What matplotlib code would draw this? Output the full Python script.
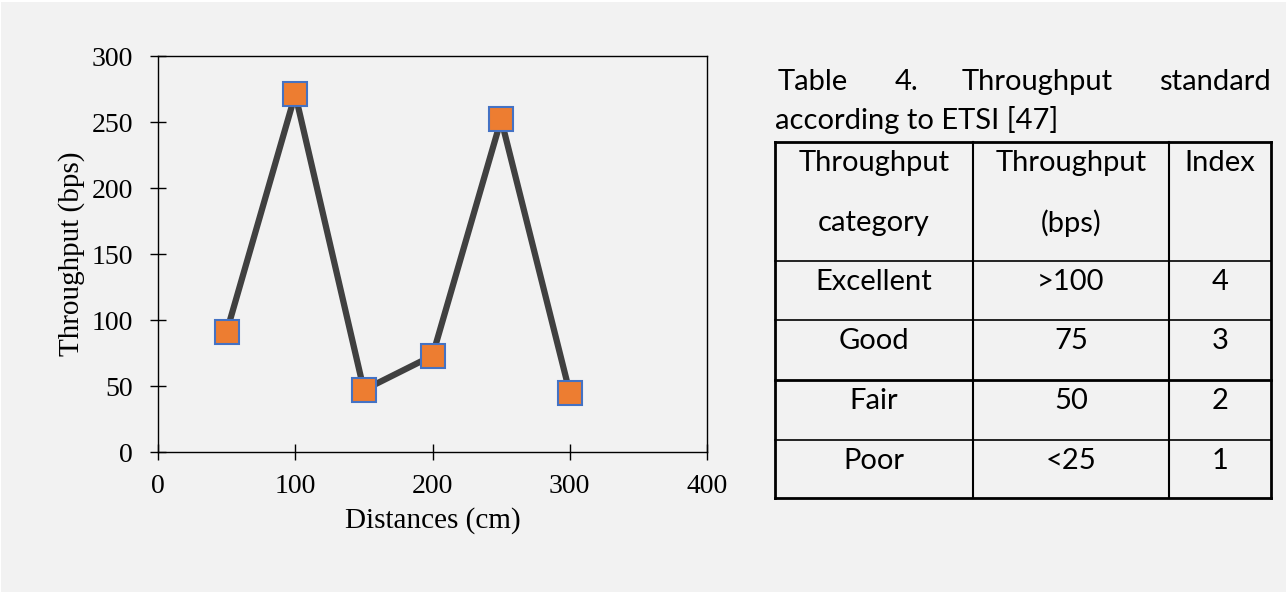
import matplotlib.pyplot as plt
from matplotlib.patches import Rectangle
from matplotlib.lines import Line2D

# dados do grafico
distances = [50, 100, 150, 200, 250, 300]
throughput = [91, 271, 47, 73, 252, 45]
x_ticks = [0, 100, 200, 300, 400]
y_ticks = [0, 50, 100, 150, 200, 250, 300]

# dados da tabela
table_title = ["Table", "4.", "Throughput", "standard"]
table_title2 = "according to ETSI [47]"
header1 = ["Throughput", "Throughput", "Index"]
header2 = ["category", "(bps)", ""]
categories = ["Excellent", "Good", "Fair", "Poor"]
limits = [">100", "75", "50", "<25"]
index = ["4", "3", "2", "1"]

W, H = 1286, 594
bg = "#f2f2f2"
fig = plt.figure(figsize=(W / 100, H / 100), dpi=100, facecolor="white")
fig.patches.append(Rectangle((1 / W, 2 / H), 1 - 1 / W, 1 - 4 / H,
                             transform=fig.transFigure, facecolor=bg,
                             edgecolor="none", zorder=-10))

serif = "Liberation Serif"

ax = fig.add_axes([158 / W, 1 - 452 / H, (707 - 158) / W, (452 - 56) / H])
ax.set_facecolor(bg)
ax.plot(distances, throughput, color="#404040", linewidth=4.5, marker="s",
        markersize=17, markerfacecolor="#ed7d31", markeredgecolor="#4472c4",
        markeredgewidth=1.5, clip_on=False)
ax.set_xlim(0, 400)
ax.set_ylim(0, 300)
ax.set_xticks(x_ticks)
ax.set_yticks(y_ticks)
ax.tick_params(direction="inout", length=12, width=1, pad=12,
               labelsize=20, colors="black")
ax.tick_params(axis="x", pad=10)
for lab in ax.get_xticklabels() + ax.get_yticklabels():
    lab.set_fontfamily(serif)
for s in ax.spines.values():
    s.set_linewidth(1)
ax.set_xlabel("Distances (cm)", fontsize=21, family=serif, labelpad=6)
ax.set_ylabel("Throughput (bps)", fontsize=21, family=serif, labelpad=5)

# tabela em coordenadas de pixel
tx = fig.add_axes([0, 0, 1, 1], facecolor="none")
tx.set_xlim(0, W)
tx.set_ylim(H, 0)
tx.axis("off")

sans = "Lato"
fs = 21

# titulo justificado
title_x = [778, 895, 962]
for word, xx in zip(table_title[:3], title_x):
    tx.text(xx, 82, word, fontsize=fs, family=sans, ha="left", va="center")
tx.text(1271, 82, table_title[3], fontsize=fs, family=sans, ha="right", va="center")
tx.text(775, 120, table_title2, fontsize=fs, family=sans, ha="left", va="center")

cols = [775, 973, 1169, 1271]
rows = [142, 261, 320, 380, 440, 498]

for i, yy in enumerate(rows):
    lw = 2 if i in (0, len(rows) - 1, 3) else 1.2
    tx.add_line(Line2D([cols[0], cols[-1]], [yy, yy], color="black", lw=lw))
for i, xx in enumerate(cols):
    lw = 2 if i in (0, len(cols) - 1) else 1.5
    tx.add_line(Line2D([xx, xx], [rows[0], rows[-1]], color="black", lw=lw))

centers = [(cols[i] + cols[i + 1]) / 2 for i in range(3)]
for c, a, b in zip(centers, header1, header2):
    tx.text(c, 163, a, fontsize=fs, family=sans, ha="center", va="center")
    tx.text(c, 223, b, fontsize=fs, family=sans, ha="center", va="center")

for r, row in enumerate(zip(categories, limits, index)):
    yy = rows[r + 1] + 21
    for c, val in zip(centers, row):
        tx.text(c, yy, val, fontsize=fs, family=sans, ha="center", va="center")

fig.savefig("out.png", dpi=100, facecolor=fig.get_facecolor())
